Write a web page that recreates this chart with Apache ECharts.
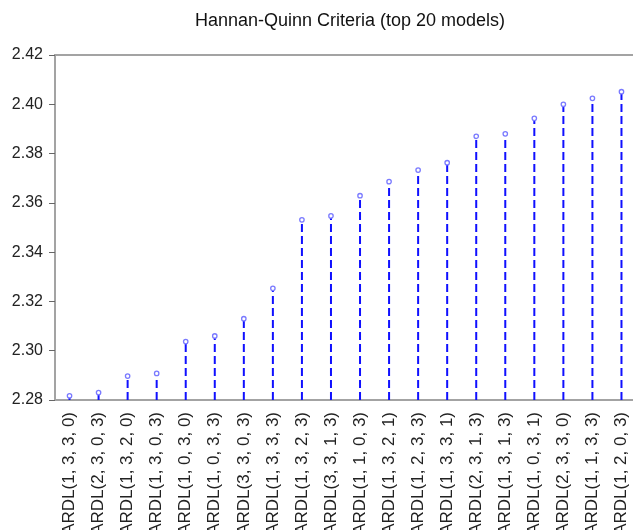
<!DOCTYPE html>
<html>
<head>
<meta charset="utf-8">
<title>Hannan-Quinn Criteria</title>
<script src="https://cdn.jsdelivr.net/npm/echarts@6/dist/echarts.min.js"></script>
<style>
  html, body { margin: 0; padding: 0; background: #fff; }
  #chart { width: 633px; height: 530px; }
</style>
</head>
<body>
<div id="chart"></div>
<script>
// models, ordered as in the graph
var models = [
    'ARDL(1, 3, 3, 0)', 'ARDL(2, 3, 0, 3)', 'ARDL(1, 3, 2, 0)', 'ARDL(1, 3, 0, 3)',
    'ARDL(1, 0, 3, 0)', 'ARDL(1, 0, 3, 3)', 'ARDL(3, 3, 0, 3)', 'ARDL(1, 3, 3, 3)',
    'ARDL(1, 3, 2, 3)', 'ARDL(3, 3, 1, 3)', 'ARDL(1, 1, 0, 3)', 'ARDL(1, 3, 2, 1)',
    'ARDL(1, 2, 3, 3)', 'ARDL(1, 3, 3, 1)', 'ARDL(2, 3, 1, 3)', 'ARDL(1, 3, 1, 3)',
    'ARDL(1, 0, 3, 1)', 'ARDL(2, 3, 3, 0)', 'ARDL(1, 1, 3, 3)', 'ARDL(1, 2, 0, 3)'
];
// HQ values
var hqValues = [
    2.2817, 2.2830, 2.2897, 2.2908, 2.3037, 2.3060, 2.3130, 2.3253, 2.3531, 2.3547,
    2.3629, 2.3686, 2.3733, 2.3763, 2.3870, 2.3880, 2.3943, 2.4000, 2.4024, 2.4051
];
var yMin = 2.28, yMax = 2.42, yStep = 0.02;

var chart = echarts.init(document.getElementById('chart'));

var points = [];
for (var i = 0; i < models.length; i++) {
    points.push([i, hqValues[i]]);
}

var axisGray = '#a3a3a3';

var option = {
    animation: false,
    backgroundColor: '#fff',
    title: {
        text: 'Hannan-Quinn Criteria (top 20 models)',
        left: 345,
        textAlign: 'center',
        top: 7,
        textStyle: { fontFamily: 'Liberation Sans', fontSize: 18, fontWeight: 'normal', color: '#111' }
    },
    grid: {
        left: 55, top: 55, right: -3, bottom: 130,
        outerBoundsMode: 'none',
        containLabel: false,
        show: true, borderColor: axisGray, borderWidth: 2, backgroundColor: 'transparent'
    },
    xAxis: {
        type: 'category',
        data: models,
        axisLine: { lineStyle: { color: axisGray, width: 2 } },
        axisTick: { alignWithLabel: false, length: 5, lineStyle: { color: '#666', width: 1 } },
        axisLabel: {
            interval: 0, rotate: 90, margin: 12,
            fontFamily: 'Liberation Sans', fontSize: 17, color: '#222'
        },
        splitLine: { show: false }
    },
    yAxis: {
        type: 'value',
        min: yMin, max: yMax, interval: yStep,
        axisLine: { show: true, lineStyle: { color: axisGray, width: 2 } },
        axisTick: { show: true, length: 6, lineStyle: { color: '#666', width: 1 } },
        axisLabel: {
            margin: 12,
            fontFamily: 'Liberation Sans', fontSize: 16, color: '#222',
            formatter: function (v) { return v.toFixed(2); }
        },
        splitLine: { show: false }
    },
    series: [{
        type: 'custom',
        data: points,
        renderItem: function (params, api) {
            var top = api.coord([api.value(0), api.value(1)]);
            var base = api.coord([api.value(0), yMin]);
            return {
                type: 'group',
                children: [{
                    type: 'line',
                    shape: { x1: top[0], y1: base[1], x2: top[0], y2: top[1] + 2 },
                    style: { stroke: '#1010ff', lineWidth: 2, lineDash: [8, 4] }
                }, {
                    type: 'circle',
                    shape: { cx: top[0], cy: top[1], r: 2.2 },
                    style: { fill: '#fff', stroke: '#7a7aff', lineWidth: 1.3 }
                }]
            };
        }
    }]
};
chart.setOption(option);
</script>
</body>
</html>
